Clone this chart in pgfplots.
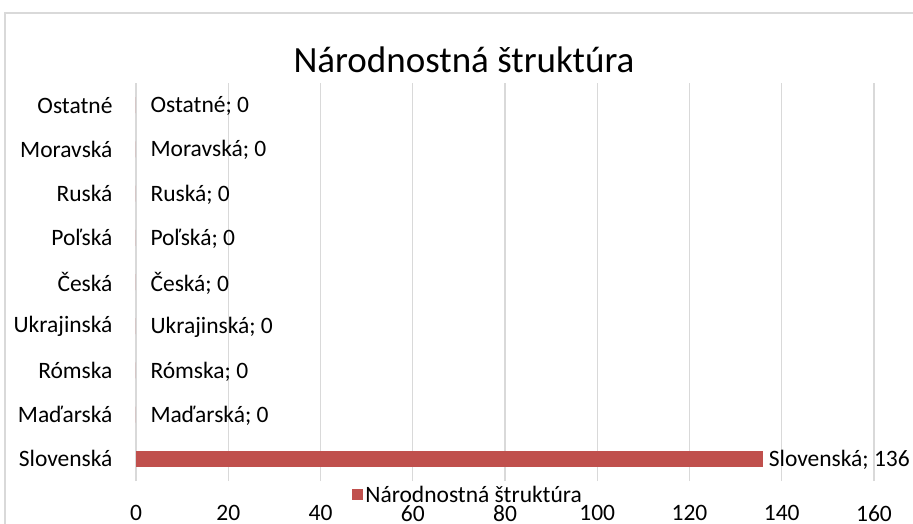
\documentclass[border=0pt]{standalone}
\usepackage{pgfplots}
\pgfplotsset{compat=1.18}
\usepackage{fontspec}
\setmainfont{Carlito}
\definecolor{barred}{HTML}{C0504D}
\definecolor{gridgray}{HTML}{D9D9D9}
\newcommand{\lblfont}{\fontsize{23.5}{28}\selectfont}
\protected\def\semi{;}
\begin{document}
\begin{tikzpicture}[x=1pt,y=1pt]
\useasboundingbox (0,0) rectangle (913,523);
\draw[gridgray, line width=1.2pt] (5,-5) -- (5,510) -- (920,510);
\node[font=\fontsize{37}{44}\selectfont, anchor=base] at (464,450) {Národnostná štruktúra};
\begin{axis}[
  at={(136pt,42pt)}, anchor=south west,
  scale only axis, width=738pt, height=398pt,
  xmin=0, xmax=160, ymin=-0.5, ymax=8.5,
  axis line style={draw=none}, tick style={draw=none},
  xtick={0,20,...,160}, ytick={0,...,8},
  yticklabels={Slovenská, Maďarská, Rómska, Ukrajinská, Česká, Poľská, Ruská, Moravská, Ostatné},
  xmajorgrids, major grid style={gridgray, line width=1.3pt},
  tick label style={font=\lblfont},
  x tick label style={yshift=-21pt},
  y tick label style={xshift=-20pt},
  /pgf/number format/assume math mode=true,
  legend style={at={(0.45,-0.035)}, anchor=center, draw=none, fill=none, font=\lblfont, inner sep=1pt},
  legend cell align=left,
  legend image code/.code={\fill[barred] (-4pt,-5.5pt) rectangle (7pt,5.5pt);},
]
\addplot[xbar, bar shift=0pt, bar width=16pt, fill=barred, draw=none,
  nodes near coords, point meta=explicit symbolic,
  every node near coord/.append style={anchor=west, xshift=2pt, yshift=-1pt, font=\lblfont, text=black}]
  table[col sep=comma, x=x, y=y, meta=lab] {
x,y,lab
136,0,Slovenská\semi\ 136
};
\addlegendentry{Národnostná štruktúra}
\addplot[xbar, bar shift=0pt, bar width=16pt, fill=barred, draw=none, forget plot,
  nodes near coords, point meta=explicit symbolic,
  every node near coord/.append style={anchor=west, xshift=11pt, yshift=-1pt, font=\lblfont, text=black}]
  table[col sep=comma, x=x, y=y, meta=lab] {
x,y,lab
0,1,Maďarská\semi\ 0
0,2,Rómska\semi\ 0
0,3,Ukrajinská\semi\ 0
0,4,Česká\semi\ 0
0,5,Poľská\semi\ 0
0,6,Ruská\semi\ 0
0,7,Moravská\semi\ 0
0,8,Ostatné\semi\ 0
};
\end{axis}
\end{tikzpicture}
\end{document}
